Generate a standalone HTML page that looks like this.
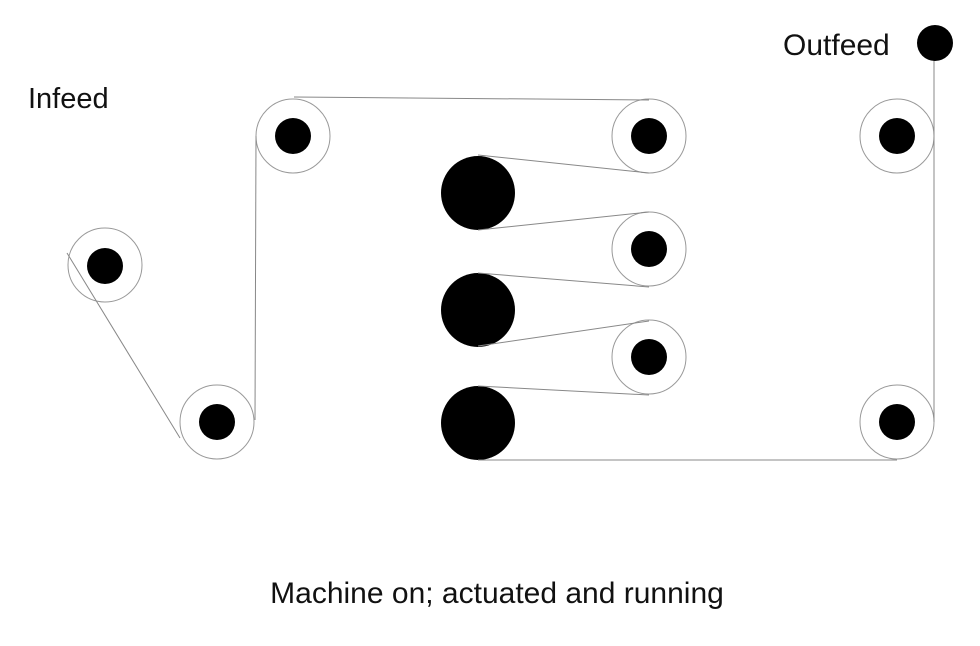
<!DOCTYPE html>
<html><head><meta charset="utf-8"><style>
html,body{margin:0;padding:0;background:#fff;width:980px;height:646px;overflow:hidden}
svg{display:block}
text{font-family:"Liberation Sans",sans-serif;fill:#111}
</style></head><body>
<svg width="980" height="646" viewBox="0 0 980 646">
<g>
<g><circle cx="105" cy="265" r="37" fill="#fff" stroke="#999"/><circle cx="105" cy="266" r="18" fill="#000"/></g>
<g><circle cx="217" cy="422" r="37" fill="#fff" stroke="#999"/><circle cx="217" cy="422" r="18" fill="#000"/></g>
<g><circle cx="293" cy="136" r="37" fill="#fff" stroke="#999"/><circle cx="293" cy="136" r="18" fill="#000"/></g>
<g><circle cx="649" cy="136" r="37" fill="#fff" stroke="#999"/><circle cx="649" cy="136" r="18" fill="#000"/></g>
<g><circle cx="649" cy="249" r="37" fill="#fff" stroke="#999"/><circle cx="649" cy="249" r="18" fill="#000"/></g>
<g><circle cx="649" cy="357" r="37" fill="#fff" stroke="#999"/><circle cx="649" cy="357" r="18" fill="#000"/></g>
<g><circle cx="897" cy="136" r="37" fill="#fff" stroke="#999"/><circle cx="897" cy="136" r="18" fill="#000"/></g>
<g><circle cx="897" cy="422" r="37" fill="#fff" stroke="#999"/><circle cx="897" cy="422" r="18" fill="#000"/></g>
</g>
<g fill="#000">
<circle cx="478" cy="193" r="37"/>
<circle cx="478" cy="310" r="37"/>
<circle cx="478" cy="423" r="37"/>
</g>
<g stroke="#888" stroke-width="1" fill="none">
<line x1="67" y1="253" x2="180" y2="438"/>
<line x1="255" y1="420" x2="256" y2="136"/>
<line x1="294" y1="97" x2="649" y2="100"/>
<line x1="478" y1="155" x2="649" y2="173"/>
<line x1="478" y1="230" x2="649" y2="212"/>
<line x1="478" y1="273" x2="649" y2="287"/>
<line x1="478" y1="346" x2="649" y2="321"/>
<line x1="478" y1="386" x2="649" y2="395"/>
<line x1="478" y1="460" x2="897" y2="460"/>
<line x1="934" y1="60" x2="934" y2="422"/>
</g>
<circle cx="935" cy="43" r="18" fill="#000"/>
<text x="28" y="108" font-size="29">Infeed</text>
<text x="783" y="55" font-size="30">Outfeed</text>
<text x="497" y="603" font-size="30" text-anchor="middle">Machine on; actuated and running</text>
</svg>
</body></html>
